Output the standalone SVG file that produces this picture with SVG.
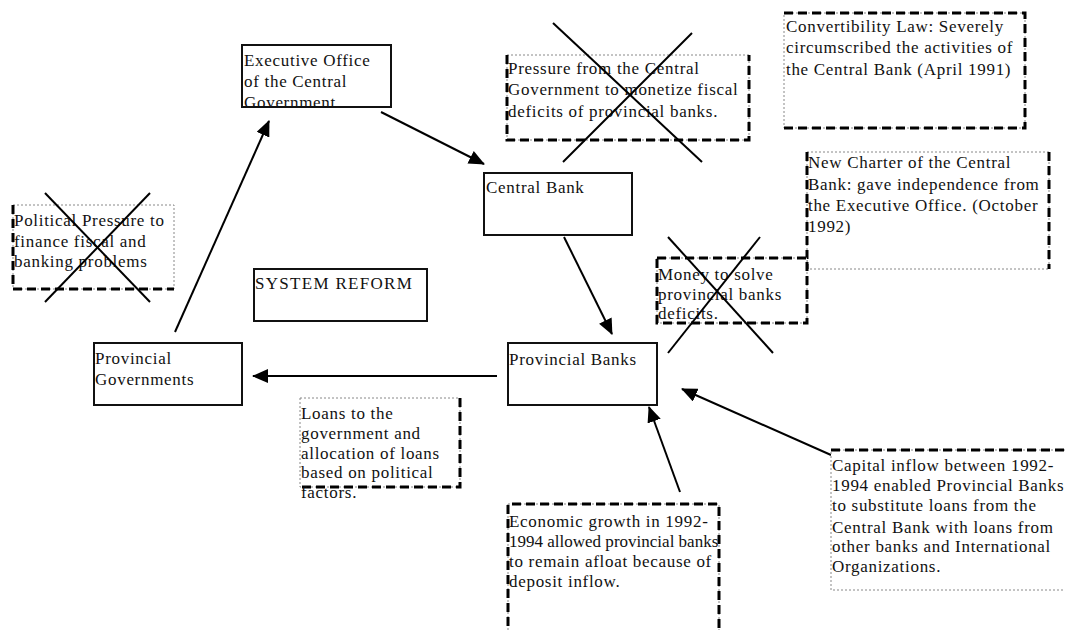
<svg xmlns="http://www.w3.org/2000/svg" width="1065" height="630" viewBox="0 0 1065 630">
<style>
text{font-family:"Liberation Serif","Times New Roman",serif;font-size:17px;letter-spacing:0.7px;fill:#111}
.box{fill:#fff;stroke:#111;stroke-width:2}
.note{fill:#fff;stroke:#888;stroke-width:1;stroke-dasharray:2 2}
.thick{stroke:#000;stroke-width:3;stroke-dasharray:9 5;fill:none}
.cross{stroke:#000;stroke-width:2}
.conn{stroke:#000;stroke-width:2;fill:none}
</style>
<defs>
<marker id="ah" markerUnits="userSpaceOnUse" markerWidth="16" markerHeight="14" viewBox="0 0 16 14" refX="15" refY="7" orient="auto">
<path d="M0,0 L16,7 L0,14 Z" fill="#000"/>
</marker>
</defs>

<g id="connectors">
<line class="conn" x1="175" y1="332" x2="269" y2="121" marker-end="url(#ah)"/>
<line class="conn" x1="381" y1="112" x2="484" y2="164" marker-end="url(#ah)"/>
<line class="conn" x1="564" y1="237" x2="612" y2="334" marker-end="url(#ah)"/>
<line class="conn" x1="497" y1="376" x2="253" y2="376" marker-end="url(#ah)"/>
<line class="conn" x1="680" y1="492" x2="649" y2="407" marker-end="url(#ah)"/>
<line class="conn" x1="831" y1="455" x2="682" y2="389" marker-end="url(#ah)"/>
</g>

<g id="executive-office">
<text x="244" y="66"> Executive Office</text>
<text x="244" y="87">of the Central</text>
<text x="244" y="108">Government</text>
<rect class="box" x="242" y="45" width="149" height="62" style="fill:none"/>
</g>

<g id="central-bank">
<rect class="box" x="484" y="173" width="148" height="62"/>
<text x="486" y="193">Central Bank</text>
</g>

<g id="provincial-banks">
<rect class="box" x="508" y="343" width="149" height="62"/>
<text x="509" y="365">Provincial Banks</text>
</g>

<g id="provincial-governments">
<rect class="box" x="94" y="343" width="148" height="62"/>
<text x="95" y="364">Provincial</text>
<text x="95" y="385">Governments</text>
</g>

<g id="system-reform">
<rect class="box" x="254" y="269" width="173" height="52"/>
<text x="255" y="289" style="letter-spacing:1.3px">SYSTEM REFORM</text>
</g>

<g id="political-pressure">
<rect class="note" x="13" y="205" width="161" height="84"/>
<path class="thick" d="M13,205 V289 H174"/>
<text x="14" y="226">Political Pressure to</text>
<text x="14" y="247">finance fiscal and</text>
<text x="14" y="267">banking problems</text>
<line class="cross" x1="45" y1="193" x2="150" y2="302"/>
<line class="cross" x1="150" y1="193" x2="45" y2="302"/>
</g>

<g id="pressure-central-government">
<rect class="note" x="507" y="55" width="242" height="85"/>
<path class="thick" d="M507,55 V140 H749 V55"/>
<text x="508" y="74">Pressure from the Central</text>
<text x="508" y="95">Government to monetize fiscal</text>
<text x="508" y="117">deficits of provincial banks.</text>
<line class="cross" x1="553" y1="23" x2="702" y2="162"/>
<line class="cross" x1="692" y1="33" x2="563" y2="162"/>
</g>

<g id="convertibility-law">
<rect class="note" x="784" y="13" width="241" height="115"/>
<path class="thick" d="M784,13 H1025 V128 H784"/>
<text x="786" y="32">Convertibility Law: Severely</text>
<text x="786" y="53">circumscribed the activities of</text>
<text x="786" y="75">the Central Bank (April 1991)</text>
</g>

<g id="new-charter">
<rect class="note" x="807" y="152" width="242" height="117"/>
<path class="thick" d="M807,152 V269 M1049,152 V269"/>
<text x="808" y="168">New Charter of the Central</text>
<text x="808" y="190">Bank: gave independence from</text>
<text x="808" y="211">the Executive Office. (October</text>
<text x="808" y="232">1992)</text>
</g>

<g id="money-deficits">
<rect class="note" x="657" y="258" width="150" height="65"/>
<rect class="thick" x="657" y="258" width="150" height="65"/>
<text x="658" y="280">Money to solve</text>
<text x="658" y="300">provincial banks</text>
<text x="658" y="319">deficits.</text>
<line class="cross" x1="668" y1="237" x2="773" y2="353"/>
<line class="cross" x1="760" y1="237" x2="668" y2="353"/>
</g>

<g id="loans">
<rect class="note" x="300" y="398" width="160" height="89"/>
<path class="thick" d="M460,398 V487 H300"/>
<text x="301" y="419">Loans to the</text>
<text x="301" y="439">government and</text>
<text x="301" y="459">allocation of loans</text>
<text x="301" y="478">based on political</text>
<text x="301" y="498">factors.</text>
</g>

<g id="economic-growth">
<rect class="note" x="508" y="504" width="211" height="140"/>
<path class="thick" d="M508,640 V504 H719 V640"/>
<text x="509" y="527">Economic growth in 1992-</text>
<text x="509" y="547" textLength="210">1994 allowed provincial banks</text>
<text x="509" y="567">to remain afloat because of</text>
<text x="509" y="587">deposit inflow.</text>
</g>

<g id="capital-inflow">
<rect class="note" x="831" y="450" width="250" height="140"/>
<path class="thick" d="M831,450 H1070"/>
<text x="832" y="471">Capital inflow between 1992-</text>
<text x="832" y="491">1994 enabled Provincial Banks</text>
<text x="832" y="511">to substitute loans from the</text>
<text x="832" y="533">Central Bank with loans from</text>
<text x="832" y="552">other banks and International</text>
<text x="832" y="572">Organizations.</text>
</g>
</svg>
